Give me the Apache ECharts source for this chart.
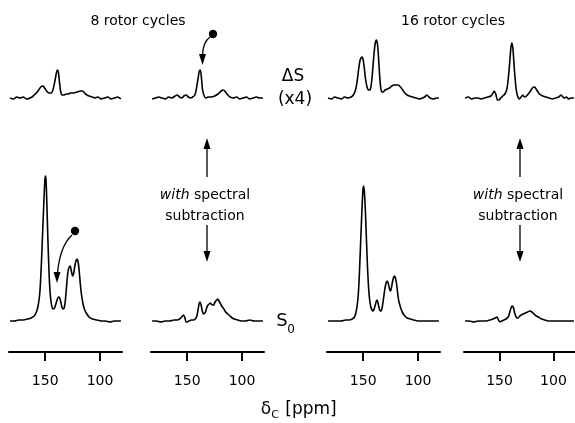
<!DOCTYPE html>
<html>
<head>
<meta charset="utf-8">
<script src="https://cdn.jsdelivr.net/npm/echarts@6/dist/echarts.min.js"></script>
<style>
  html, body { margin: 0; padding: 0; background: #fff; }
  #main { width: 575px; height: 423px; }
</style>
</head>
<body>
<div id="main"></div>
<script>
// chemical shift ticks (ppm)
var tickPpm = [150, 100];

// difference spectra ΔS (x4), [ppm, intensity]
var dS8 = [[182,0],[179,-1],[176,1],[173,0],[170,1],[167,-1],[164,0],[162,1],[160,3],[158,5],[156,8],[154,11],[152,12],[150,9],[148,6],[146,5],[144.5,5],[143,8],[141.5,15],[140,24],[139,28],[138,26],[137,16],[136,7],[134.5,3],[133,3],[131,4],[129,4],[127,5],[124,5],[121,6],[118,7],[116,7],[114,5],[112,3],[110,2],[107,1],[105,0],[102,1],[99,-1],[96,0],[93,1],[90,-1],[87,0],[84,1],[81,-1]];
var dS8sub = [[182,-1],[179,0],[176,1],[173,0],[170,-1],[167,1],[164,0],[161,2],[159,3],[157,1],[155,0],[153,2],[151,3],[149,1],[147,0],[145,1],[143,3],[141.5,10],[140,20],[139,27],[138,28],[137,20],[136,8],[134.5,2],[133,0],[131,1],[128,1],[125,2],[122,4],[119,7],[117,8],[115,6],[113,3],[111,1],[108,0],[105,1],[102,-1],[99,0],[96,1],[93,-1],[90,0],[87,1],[84,0],[81,0]];
var dS16 = [[182,0],[179,-1],[176,1],[173,0],[170,-1],[167,1],[164,0],[161,1],[159,3],[157,8],[155.5,17],[154,30],[153,37],[152,40],[151,41],[150,38],[149,30],[148,20],[146.5,11],[145,8],[144,8],[143,11],[142,20],[141,33],[140,46],[139,55],[138,58],[137,54],[136,40],[135,22],[134,10],[133,6],[132,6],[130,8],[128,9],[126,10],[124,12],[122,13],[120,13],[118,13],[116,11],[114,8],[112,5],[110,3],[108,2],[105,1],[102,0],[99,-1],[96,0],[94,1],[92,3],[91,2],[89,0],[86,-1],[83,0],[81,0]];
var dS16sub = [[182,0],[179,1],[176,-1],[173,0],[170,0],[167,-1],[164,0],[161,1],[158,2],[156,5],[155,7],[153.5,4],[152,-2],[150.5,-2],[149,0],[147,2],[145,4],[143,10],[141,30],[139.5,50],[138.5,55],[137.5,48],[136,25],[134.5,8],[133,1],[131.5,-1],[130,1],[128.5,3],[127,1],[125,2],[122,6],[119.5,10],[117.5,11],[115.5,8],[113,4],[110,2],[107,1],[104,0],[101,-1],[98,0],[95,1],[93,3],[92,2],[90,0],[88,1],[86,-1],[84,0],[81,0]];

// reference spectra S0, [ppm, intensity]
var s8 = [[182,0],[178,0],[174,1],[170,1],[166,2],[163,3],[160,5],[158,9],[156.5,15],[155,27],[154,45],[153,70],[152,98],[151,125],[150.3,141],[149.8,145],[149.2,140],[148.5,118],[147.5,80],[146.5,48],[145.5,28],[144.5,18],[143.5,13],[142.5,12],[141.5,13],[140,18],[138.5,23],[137.2,24],[136,20],[134.8,14],[133.5,12],[132.5,14],[131.5,22],[130.5,35],[129.5,47],[128.5,53],[127.2,55],[126,49],[125,45],[124,48],[123,55],[122,60],[121,62],[120,59],[119,50],[118,37],[117,27],[115.5,17],[114,11],[112,7],[110,4],[107,2],[103,1],[99,0],[95,0],[91,-1],[87,0],[83,0],[81,0]];
var s8sub = [[182,0],[178,0],[174,-1],[170,0],[166,0],[162,1],[159,1],[157,2],[155,4],[153.5,6],[152.3,4],[151,-1],[150,-1],[148.5,0],[146,1],[144,1],[142,3],[141,6],[140,12],[139,18],[138.3,19],[137.3,16],[136.3,10],[135.2,7],[134,8],[133,10],[132,14],[131,16],[130,17],[129,18],[128,17],[127,16],[126,16],[125,18],[124,20],[123,21],[122,22],[121,20],[120,18],[119,16],[118,14],[116.5,12],[115,9],[113,7],[111,5],[109,3],[107,2],[104,1],[101,0],[97,0],[93,1],[89,0],[85,0],[81,0]];
var s16 = [[182,0],[178,0],[174,0],[170,0],[166,1],[163,1],[160,2],[158,4],[156.5,9],[155,20],[154,35],[153,60],[152,88],[151,115],[150.3,130],[149.7,135],[149,130],[148,110],[147,80],[146,52],[145,32],[144,20],[143,14],[142,11],[141,10],[140,12],[139,16],[138,20],[137.3,21],[136.5,18],[135.5,13],[134.5,10],[133.7,10],[132.8,13],[131.8,20],[130.8,28],[129.8,35],[128.8,39],[128,40],[127,37],[126,32],[125.3,30],[124.5,32],[123.5,38],[122.5,43],[121.6,45],[120.6,43],[119.6,37],[118.6,28],[117.6,20],[116.6,16],[115.5,12],[114,8],[112,5],[110,3],[107,2],[104,1],[100,0],[96,0],[92,0],[88,0],[84,0],[81,0]];
var s16sub = [[182,0],[178,0],[174,-1],[170,0],[166,0],[162,0],[159,1],[156,2],[154,3],[152.5,4],[151,1],[149.5,-1],[148,0],[146,1],[144,2],[142,4],[141,7],[140,11],[139,14],[138,15],[137,13],[136,8],[135,5],[134,3],[133,3],[132,4],[130,6],[128,7],[126,8],[124,9],[122,10],[120,9],[118,7],[116,5],[114,4],[111,2],[108,1],[105,0],[101,0],[97,0],[93,0],[89,0],[85,0],[81,0]];

(function () {
  var myChart = echarts.init(document.getElementById('main'));

  var font = 'DejaVu Sans';
  var cols = [9, 151, 327, 464];
  var spectra = [dS8, dS8sub, dS16, dS16sub, s8, s8sub, s16, s16sub];

  var grid = [], xAxis = [], yAxis = [], series = [];
  // 0-3: ΔS row, 4-7: S0 row, 8-11: ppm axis strips
  for (var g = 0; g < 12; g++) {
    var row = Math.floor(g / 4);
    grid.push({
      left: cols[g % 4],
      top: [38, 172, 330][row],
      width: 113,
      height: [70, 180, 44][row]
    });
    xAxis.push({
      gridIndex: g,
      type: 'value',
      inverse: true,
      min: 80,
      max: 183,
      show: row === 2,
      axisLine: { onZero: true, lineStyle: { color: '#000', width: 2 } },
      axisTick: { customValues: tickPpm, length: 9, lineStyle: { color: '#000', width: 2 } },
      axisLabel: { customValues: tickPpm, margin: 0, color: '#000', fontSize: 14, fontFamily: font },
      splitLine: { show: false }
    });
    yAxis.push({
      gridIndex: g,
      type: 'value',
      show: false,
      min: [-10, -31, -1][row],
      max: [60, 149, 1][row]
    });
    if (row < 2) {
      series.push({
        type: 'line',
        xAxisIndex: g,
        yAxisIndex: g,
        data: spectra[g],
        symbol: 'none',
        smooth: 0.25,
        clip: false,
        lineStyle: { color: '#000', width: 1.6 }
      });
    }
  }

  function txt(text, x, y, size, extra) {
    var st = { text: text, x: x, y: y, fill: '#000', font: size + 'px "' + font + '"', align: 'center', verticalAlign: 'middle' };
    for (var k in extra) st[k] = extra[k];
    return { type: 'text', style: st, silent: true };
  }
  function arrowHead(tx, ty, dir) {
    // dir: 1 points down, -1 points up
    return { type: 'polygon', shape: { points: [[tx, ty], [tx - 3.5, ty - dir * 11], [tx + 3.5, ty - dir * 11]] }, style: { fill: '#000' }, silent: true };
  }
  function vline(x, y1, y2) {
    return { type: 'line', shape: { x1: x, y1: y1, x2: x, y2: y2 }, style: { stroke: '#000', lineWidth: 1.3 }, silent: true };
  }
  var richWith = { i: { fontStyle: 'italic', fontSize: 14, fontFamily: font } };

  var graphic = [
    txt('8 rotor cycles', 138, 21, 14),
    txt('16 rotor cycles', 453, 21, 14),
    txt('ΔS', 293, 77, 17),
    txt('(x4)', 295, 100, 17),
    txt('S', 282, 321, 18),
    txt('0', 291, 330, 12),
    txt('{i|with} spectral', 205, 195, 14, { rich: richWith }),
    txt('subtraction', 205, 216, 14),
    txt('{i|with} spectral', 518, 195, 14, { rich: richWith }),
    txt('subtraction', 518, 216, 14),
    txt('δ', 266, 410, 17),
    txt('C', 275, 415, 11),
    txt('[ppm]', 311, 410, 17),
    // double arrows
    vline(207, 148, 177), arrowHead(207, 138, -1),
    vline(207, 225, 252), arrowHead(207, 262, 1),
    vline(520, 148, 177), arrowHead(520, 138, -1),
    vline(520, 225, 252), arrowHead(520, 262, 1),
    // marker dots with curved arrows
    { type: 'circle', shape: { cx: 75, cy: 231, r: 4.2 }, style: { fill: '#000' }, silent: true },
    { type: 'bezierCurve', shape: { x1: 72, y1: 235, cpx1: 60, cpy1: 246, x2: 57.5, y2: 273 }, style: { stroke: '#000', lineWidth: 1.3, fill: null }, silent: true },
    arrowHead(57, 283, 1),
    { type: 'circle', shape: { cx: 213, cy: 34, r: 4.2 }, style: { fill: '#000' }, silent: true },
    { type: 'bezierCurve', shape: { x1: 210, y1: 37, cpx1: 203, cpy1: 42, x2: 202.5, y2: 55 }, style: { stroke: '#000', lineWidth: 1.3, fill: null }, silent: true },
    arrowHead(202.5, 65, 1)
  ];

  var option = {
    animation: false,
    backgroundColor: '#fff',
    grid: grid,
    xAxis: xAxis,
    yAxis: yAxis,
    series: series,
    graphic: graphic
  };
  myChart.setOption(option);
})();
</script>
</body>
</html>
